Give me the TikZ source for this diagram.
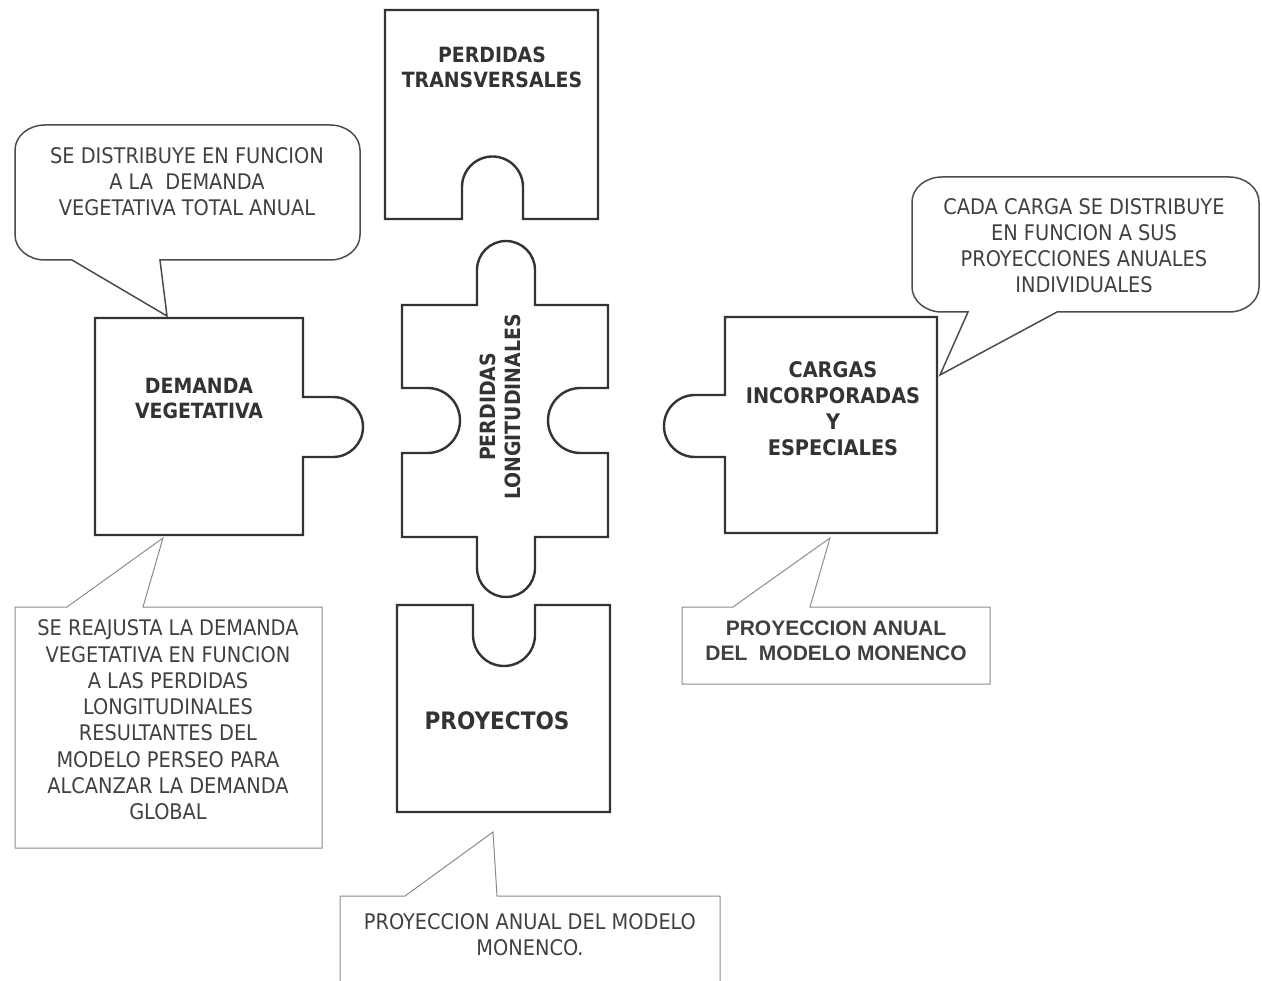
\documentclass[tikz,border=0pt]{standalone}
\usepackage{fontspec}
\newfontfamily\condfont{DejaVu Sans Condensed}
\newfontfamily\arialfont{Liberation Sans}
\tikzstyle{piece}=[line width=2.4pt, draw=black!80]
\tikzstyle{bubble}=[line width=1.5pt, draw=black!70]
\tikzstyle{note}=[line width=1pt, draw=black!45]
\tikzstyle{piecetext}=[align=center, text=black!80, font=\condfont\bfseries\fontsize{21}{25}\selectfont]
\tikzstyle{notetext}=[align=center, text=black!75, font=\condfont\fontsize{21.5}{26}\selectfont]

\begin{document}
\begin{tikzpicture}[x=1pt, y=-1pt]
  \useasboundingbox (0,0) rectangle (1262,981);

  \draw[piece] (385,10) -- (598,10) -- (598,219) -- (523,219) -- (523,187)
    arc[start angle=0, end angle=-180, radius=30.5] -- (462,219) -- (385,219) -- cycle;
  \draw[piece] (402,305) -- (477,305) -- (477,270)
    arc[start angle=180, end angle=360, radius=29] -- (535,305) -- (608,305)
    -- (608,388) -- (580.5,388)
    arc[start angle=-90, end angle=-270, radius=32.5] -- (608,453) -- (608,537)
    -- (535,537) -- (535,568)
    arc[start angle=0, end angle=180, radius=29] -- (477,537) -- (402,537)
    -- (402,453) -- (427.5,453)
    arc[start angle=90, end angle=-90, radius=32.5] -- (402,388) -- cycle;
  \draw[piece] (95,318) -- (303,318) -- (303,397) -- (333,397)
    arc[start angle=-90, end angle=90, radius=30] -- (303,457) -- (303,535)
    -- (95,535) -- cycle;
  \draw[piece] (725,317) -- (937,317) -- (937,533) -- (725,533) -- (725,457)
    -- (695,457) arc[start angle=90, end angle=270, radius=31] -- (725,395) -- cycle;
  \draw[piece] (397,605) -- (473,605) -- (473,635)
    arc[start angle=180, end angle=0, radius=31] -- (535,605) -- (610,605)
    -- (610,812) -- (397,812) -- cycle;

  \draw[bubble] (160,260) -- (167,316) -- (72,260) -- (45,260)
    arc[start angle=90, end angle=180, x radius=30, y radius=25] -- (15,150)
    arc[start angle=180, end angle=270, x radius=30, y radius=25] -- (330,125)
    arc[start angle=270, end angle=360, x radius=30, y radius=25] -- (360,235)
    arc[start angle=0, end angle=90, x radius=30, y radius=25] -- cycle;
  \draw[bubble] (1057,312) -- (940,375) -- (968,312) -- (942,312)
    arc[start angle=90, end angle=180, x radius=30, y radius=25] -- (912,202)
    arc[start angle=180, end angle=270, x radius=30, y radius=25] -- (1229,177)
    arc[start angle=270, end angle=360, x radius=30, y radius=25] -- (1259,287)
    arc[start angle=0, end angle=90, x radius=30, y radius=25] -- cycle;

  \draw[note] (143,607) -- (163,538) -- (67,607) -- (15,607) -- (15,848)
    -- (322,848) -- (322,607) -- cycle;
  \draw[note] (810,607) -- (830,538) -- (733,607) -- (682,607) -- (682,684)
    -- (990,684) -- (990,607) -- cycle;
  \draw[note] (340,981) -- (340,896) -- (405,896) -- (493,832) -- (497,896)
    -- (720,896) -- (720,981);

  \node[piecetext] (trans) at (492,67) {PERDIDAS\\TRANSVERSALES};
  \node[piecetext] (demanda) at (199,398) {DEMANDA\\VEGETATIVA};
  \node[piecetext, rotate=90] (longi) at (500,407) {PERDIDAS\\LONGITUDINALES};
  \node[piecetext, font=\condfont\bfseries\fontsize{21.5}{26}\selectfont] (cargas) at (833,409)
    {CARGAS\\INCORPORADAS\\Y\\ESPECIALES};
  \node[piecetext, font=\condfont\bfseries\fontsize{24}{28}\selectfont] (proy) at (497,721) {PROYECTOS};

  \node[notetext] (notedem) at (187,182)
    {SE DISTRIBUYE EN FUNCION\\A LA \ DEMANDA\\VEGETATIVA TOTAL ANUAL};
  \node[notetext] (notecarg) at (1084,246)
    {CADA CARGA SE DISTRIBUYE\\EN FUNCION A SUS\\PROYECCIONES ANUALES\\INDIVIDUALES};
  \node[notetext, font=\condfont\fontsize{21.5}{26.3}\selectfont] (noteajuste) at (168,720)
    {SE REAJUSTA LA DEMANDA\\VEGETATIVA EN FUNCION\\A LAS PERDIDAS\\LONGITUDINALES\\RESULTANTES DEL\\MODELO PERSEO PARA\\ALCANZAR LA DEMANDA\\GLOBAL};
  \node[notetext, font=\arialfont\bfseries\fontsize{21}{25}\selectfont] (notemonenco) at (836,641)
    {PROYECCION ANUAL\\DEL \ MODELO MONENCO};
  \node[notetext] (noteproy) at (530,935) {PROYECCION ANUAL DEL MODELO\\MONENCO.};
\end{tikzpicture}
\end{document}
